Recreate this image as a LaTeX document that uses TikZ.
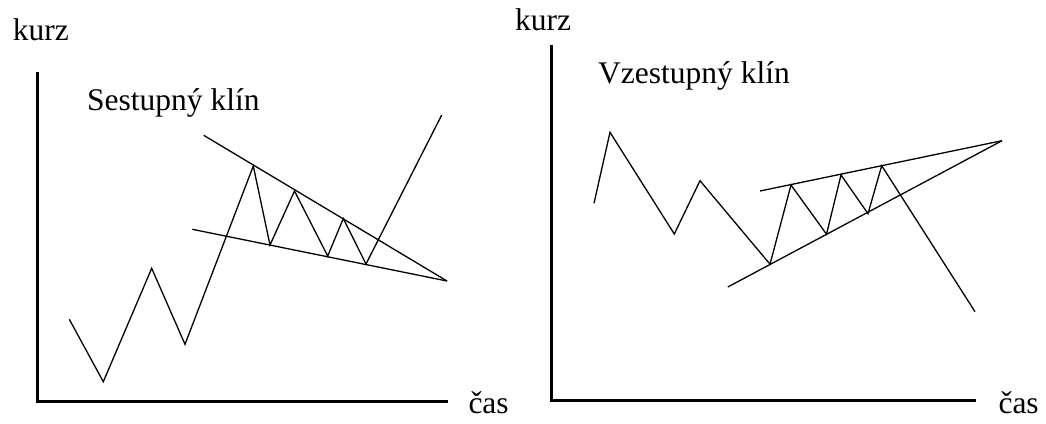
\documentclass[tikz,border=0pt]{standalone}
\usepackage{fontspec}
\setmainfont{Liberation Serif}
\begin{document}
\begin{tikzpicture}[x=1pt,y=-1pt,
  lbl/.style={inner sep=0pt,anchor=base west,font=\fontsize{31.5}{36}\selectfont},
  axis/.style={line width=3pt,line join=miter},
  price/.style={line width=1.3pt,line join=miter},
  trend/.style={line width=1.3pt}]
\useasboundingbox (0,0) rectangle (1046,423);
% ---------- left panel: Sestupny klin ----------
\node[lbl] (kurzL) at (12.7,40) {kurz};
\node[lbl] (casL) at (468.3,413) {čas};
\node[lbl] (titleL) at (87,110) {Sestupný klín};
\coordinate (yL) at (37,72);
\coordinate (oL) at (37,401);
\coordinate (xL) at (448,401);
\draw[axis] (yL) -- (oL) -- (xL);
\coordinate (a1) at (69.3,319.3);
\coordinate (a2) at (103.3,381.7);
\coordinate (a3) at (151.7,268.3);
\coordinate (a4) at (185,344.3);
\coordinate (a5) at (253.3,166);
\coordinate (a6) at (270,245);
\coordinate (a7) at (294.5,191);
\coordinate (a8) at (327.7,256);
\coordinate (a9) at (343.3,218.5);
\coordinate (a10) at (366,264);
\coordinate (a11) at (441.7,115);
\draw[price] (a1) -- (a2) -- (a3) -- (a4) -- (a5) -- (a6) -- (a7) -- (a8) -- (a9) -- (a10) -- (a11);
\coordinate (uL) at (203.7,135.3);
\coordinate (lL) at (192.3,229.3);
\coordinate (apexL) at (447,281);
\draw[trend] (uL) -- (apexL);
\draw[trend] (lL) -- (apexL);
% ---------- right panel: Vzestupny klin ----------
\node[lbl] (kurzR) at (515,30) {kurz};
\node[lbl] (casR) at (998.3,413) {čas};
\node[lbl] (titleR) at (598,83) {Vzestupný klín};
\coordinate (yR) at (551,45);
\coordinate (oR) at (551,400);
\coordinate (xR) at (976,400);
\draw[axis] (yR) -- (oR) -- (xR);
\coordinate (b1) at (594,203.3);
\coordinate (b2) at (610,132.3);
\coordinate (b3) at (674.3,234);
\coordinate (b4) at (700,180.7);
\coordinate (b5) at (770,264.2);
\coordinate (b6) at (791,185);
\coordinate (b7) at (826.5,234.2);
\coordinate (b8) at (841,175);
\coordinate (b9) at (868,213.7);
\coordinate (b10) at (881.7,165.7);
\coordinate (b11) at (975,311.7);
\draw[price] (b1) -- (b2) -- (b3) -- (b4) -- (b5) -- (b6) -- (b7) -- (b8) -- (b9) -- (b10) -- (b11);
\coordinate (uR) at (760,191);
\coordinate (lR) at (727.8,287);
\coordinate (apexR) at (1002,140.7);
\draw[trend] (uR) -- (apexR);
\draw[trend] (lR) -- (apexR);
\end{tikzpicture}
\end{document}
